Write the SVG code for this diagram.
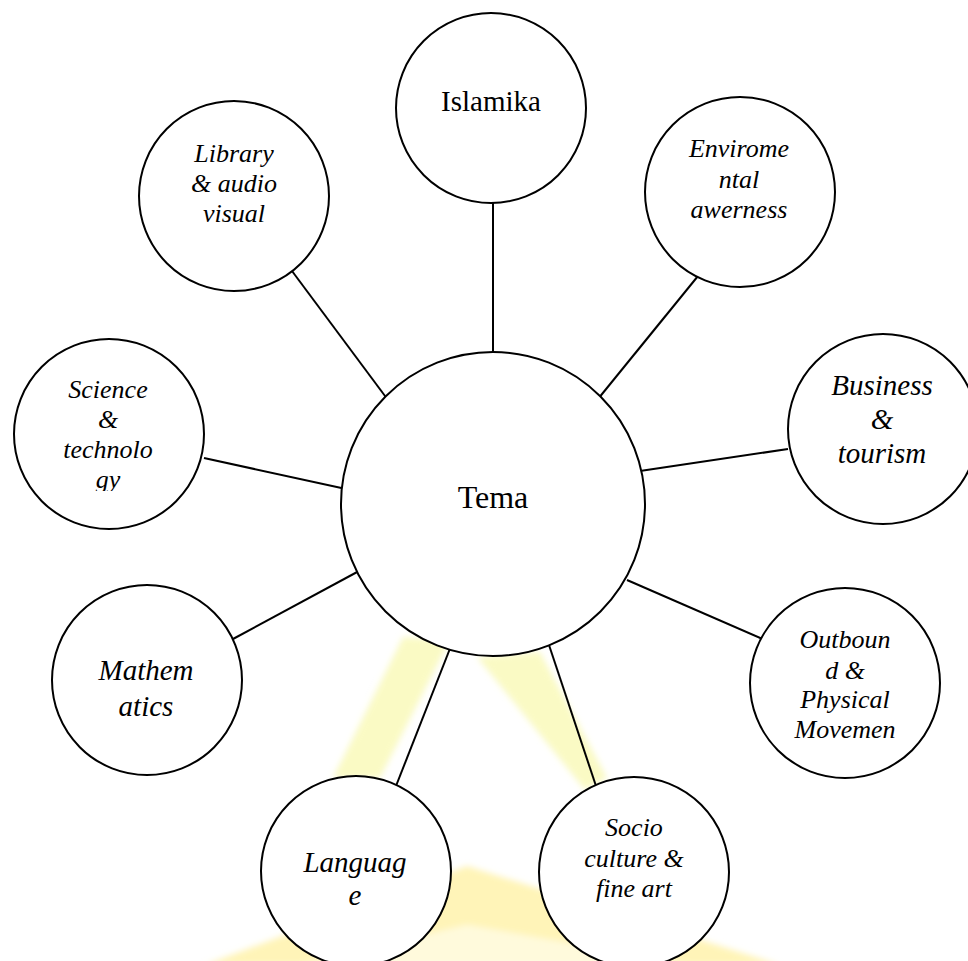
<svg xmlns="http://www.w3.org/2000/svg" width="968" height="961" viewBox="0 0 968 961">
<style>
.node circle{fill:#fff;stroke:#000;stroke-width:2}
.conn line{stroke:#000;stroke-width:2}
text{font-family:"Liberation Serif","Times New Roman",serif;text-anchor:middle;fill:#000}
.it{font-style:italic;font-size:26px}
.big{font-size:29px}
</style>
<defs>
<filter id="blur" x="-10%" y="-10%" width="120%" height="120%"><feGaussianBlur stdDeviation="3"/></filter>
<clipPath id="sciClip"><rect x="0" y="0" width="968" height="491"/></clipPath>
</defs>
<rect width="968" height="961" fill="#fff"/>
<g id="watermark" filter="url(#blur)">
<polygon points="403,637 450,640 380,778 333,778" fill="#fafac4"/>
<polygon points="477,657 540,652 607,778 585,790" fill="#fafac4"/>
<polygon points="205,965 467,866 780,965 690,965 467,925 300,965" fill="#fff4b8"/>
<polygon points="300,965 467,925 690,965" fill="#fffadc"/>
</g>
<g id="connectors" class="conn">
<line x1="493" y1="200" x2="493" y2="360"/>
<line x1="292" y1="271" x2="388" y2="400"/>
<line x1="698" y1="276" x2="598" y2="399"/>
<line x1="204" y1="458" x2="346" y2="489"/>
<line x1="788" y1="449" x2="640" y2="471"/>
<line x1="627" y1="580" x2="767" y2="641"/>
<line x1="233" y1="639" x2="359" y2="571"/>
<line x1="396" y1="786" x2="451" y2="646"/>
<line x1="596" y1="786" x2="548" y2="642"/>
</g>
<g id="tema" class="node"><circle cx="493" cy="504" r="152"/><text x="493" y="508" font-size="32">Tema</text></g>
<g id="islamika" class="node"><circle cx="491" cy="108" r="95"/><text x="491" y="111" font-size="29">Islamika</text></g>
<g id="library" class="node"><circle cx="234" cy="196" r="95"/>
<text class="it" x="234" y="162">Library</text><text class="it" x="234" y="192">&amp; audio</text><text class="it" x="234" y="222">visual</text></g>
<g id="enviro" class="node"><circle cx="740" cy="192" r="95"/>
<text class="it" x="739" y="157">Envirome</text><text class="it" x="739" y="188">ntal</text><text class="it" x="739" y="218">awerness</text></g>
<g id="science" class="node"><circle cx="109" cy="434" r="95"/>
<g clip-path="url(#sciClip)"><text class="it" x="108" y="398">Science</text><text class="it" x="108" y="428">&amp;</text><text class="it" x="108" y="458">technolo</text><text class="it" x="108" y="488">gy</text></g></g>
<g id="business" class="node"><circle cx="883" cy="429" r="95"/>
<text class="it big" x="882" y="395">Business</text><text class="it big" x="882" y="429">&amp;</text><text class="it big" x="882" y="463">tourism</text></g>
<g id="outbound" class="node"><circle cx="845" cy="683" r="95"/>
<text class="it" x="845" y="648">Outboun</text><text class="it" x="845" y="679">d &amp;</text><text class="it" x="845" y="708">Physical</text><text class="it" x="845" y="738">Movemen</text></g>
<g id="math" class="node"><circle cx="147" cy="680" r="95"/>
<text class="it big" x="146" y="680">Mathem</text><text class="it big" x="146" y="716">atics</text></g>
<g id="language" class="node"><circle cx="356" cy="871" r="95"/>
<text class="it big" x="355" y="872">Languag</text><text class="it big" x="355" y="905">e</text></g>
<g id="socio" class="node"><circle cx="634" cy="872" r="95"/>
<text class="it" x="634" y="836">Socio</text><text class="it" x="634" y="867">culture &amp;</text><text class="it" x="634" y="897">fine art</text></g>
</svg>
